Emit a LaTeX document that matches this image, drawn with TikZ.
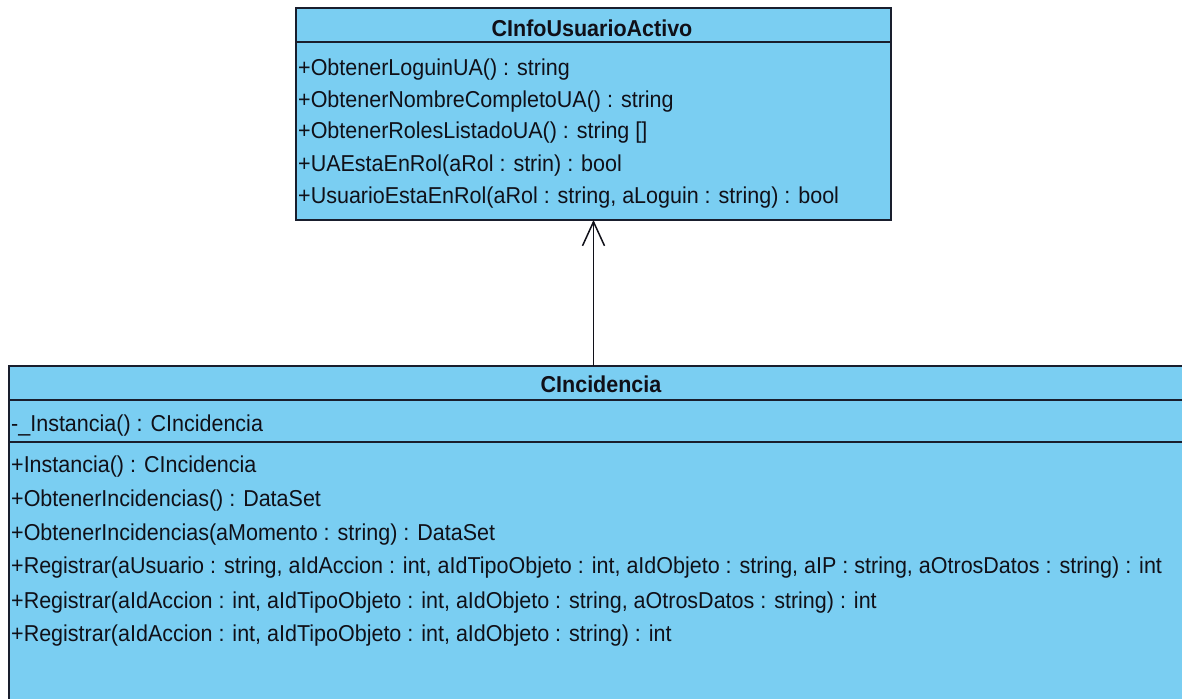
\documentclass[tikz,border=0pt]{standalone}
\usepackage{fontspec}
\setmainfont{Liberation Sans}[FakeStretch=0.935]
\usetikzlibrary{arrows.meta}
\definecolor{classfill}{RGB}{122,206,242}
\definecolor{classline}{RGB}{25,30,45}
\definecolor{textcol}{RGB}{16,16,24}
\begin{document}
\begin{tikzpicture}[x=1pt,y=-1pt,
  classbox/.style={draw=classline, line width=2pt, fill=classfill,
    inner sep=0pt, outer sep=0pt, anchor=north west},
  member/.style={anchor=base west, inner sep=0pt, text=textcol,
    font=\fontsize{23}{23}\selectfont},
  classname/.style={anchor=base, inner sep=0pt, text=textcol,
    font=\bfseries\fontsize{23}{23}\selectfont},
  sep/.style={draw=classline, line width=2pt},
  generalization/.style={draw=textcol, line width=1.5pt,
    -{Straight Barb[length=24pt,width=22pt,line width=1.5pt]}}]
\useasboundingbox (0,0) rectangle (1182,698);
\clip (0,0) rectangle (1182,698);

% class CInfoUsuarioActivo
\node[classbox, minimum width=595pt, minimum height=212pt] (info) at (296,8) {};
\draw[sep] ([yshift=-34pt]info.north west) -- ([yshift=-34pt]info.north east);
\node[classname] (infoName) at (592,37) {CInfoUsuarioActivo};
\node[member] (i1) at (298,76)  {+ObtenerLoguinUA() : string};
\node[member] (i2) at (298,107) {+ObtenerNombreCompletoUA() : string};
\node[member] (i3) at (298,139) {+ObtenerRolesListadoUA() : string []};
\node[member] (i4) at (298,171) {+UAEstaEnRol(aRol : strin) : bool};
\node[member] (i5) at (298,203) {+UsuarioEstaEnRol(aRol : string, aLoguin : string) : bool};

% class CIncidencia (continues past the lower and right edges)
\node[classbox, minimum width=1200pt, minimum height=360pt] (inc) at (9,366) {};
\draw[sep] ([yshift=-34pt]inc.north west) -- ([yshift=-34pt]inc.north east);
\draw[sep] ([yshift=-76pt]inc.north west) -- ([yshift=-76pt]inc.north east);
\node[classname] (incName) at (601,392) {CIncidencia};
\node[member] (c0) at (11,431) {-\_Instancia() : CIncidencia};
\node[member] (c1) at (11,472) {+Instancia() : CIncidencia};
\node[member] (c2) at (11,506) {+ObtenerIncidencias() : DataSet};
\node[member] (c3) at (11,540) {+ObtenerIncidencias(aMomento : string) : DataSet};
\node[member] (c4) at (11,573) {+Registrar(aUsuario : string, aIdAccion : int, aIdTipoObjeto : int, aIdObjeto : string, aIP : string, aOtrosDatos : string) : int};
\node[member] (c5) at (11,608) {+Registrar(aIdAccion : int, aIdTipoObjeto : int, aIdObjeto : string, aOtrosDatos : string) : int};
\node[member] (c6) at (11,641) {+Registrar(aIdAccion : int, aIdTipoObjeto : int, aIdObjeto : string) : int};

% generalization arrow
\draw[generalization] (info.south |- inc.north) -- (info.south);
\end{tikzpicture}
\end{document}
